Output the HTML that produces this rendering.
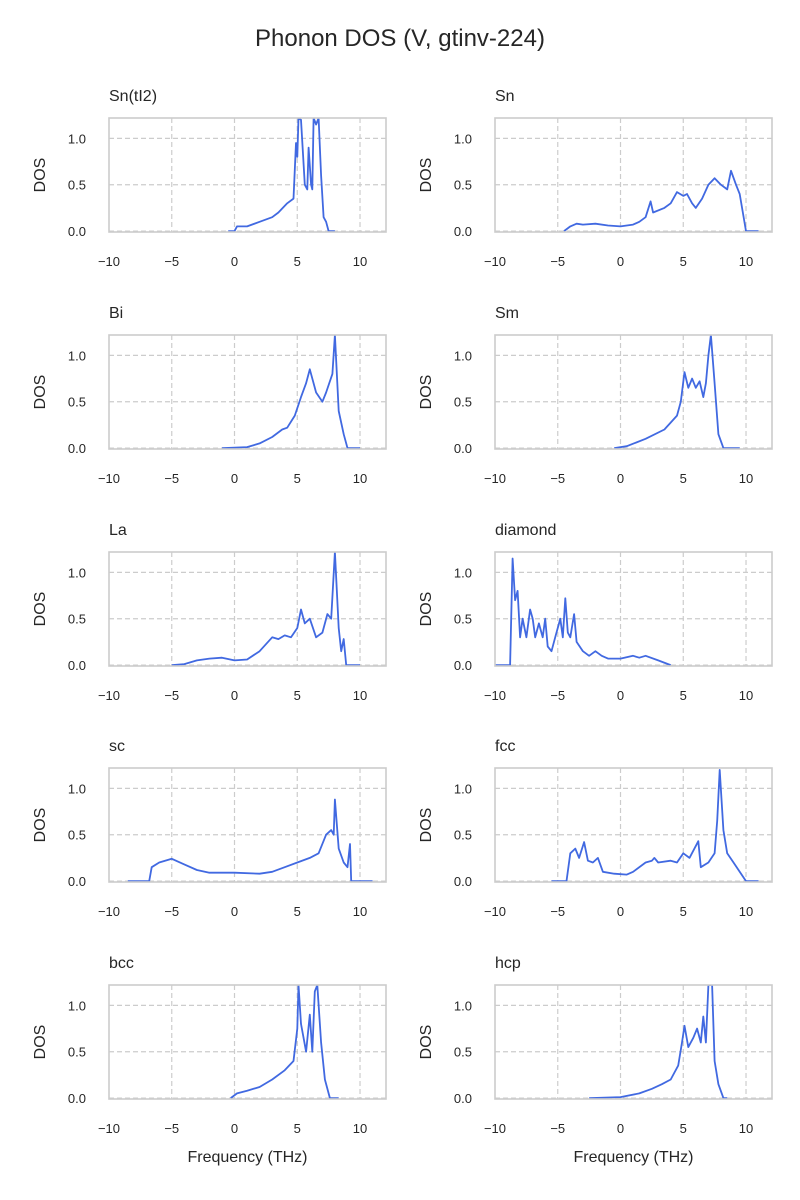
<!DOCTYPE html>
<html><head><meta charset="utf-8"><style>
html,body{margin:0;padding:0;background:#fff;}
svg{display:block;font-family:"Liberation Sans","DejaVu Sans",sans-serif;}
</style></head><body>
<svg id="fig" width="800" height="1200" viewBox="0 0 800 1200" xmlns="http://www.w3.org/2000/svg">
<rect width="800" height="1200" fill="#fff"/>
<text x="400" y="46" text-anchor="middle" font-size="24" fill="#262626">Phonon DOS (V, gtinv-224)</text>
</svg>
<script>
const panelNames = ["Sn(tI2)","Sn","Bi","Sm","La","diamond","sc","fcc","bcc","hcp"];
const xTicks = [-10,-5,0,5,10];
const yTicks = [0.0,0.5,1.0];
const yTickLabels = ["0.0","0.5","1.0"];
const freqSnTI2 = [-0.5,0,0.2,1,2,3,3.5,4.2,4.7,4.9,5,5.1,5.3,5.6,5.8,5.9,6.1,6.2,6.3,6.5,6.7,6.9,7.1,7.3,7.5,8];
const dosSnTI2  = [0,0,0.05,0.05,0.1,0.15,0.2,0.3,0.35,0.95,0.8,1.22,1.2,0.5,0.45,0.9,0.5,0.45,1.22,1.15,1.22,0.6,0.15,0.1,0,0];
const freqSn = [-4.5,-4,-3.5,-3,-2,-1,0,1,1.5,2,2.4,2.6,3.5,4,4.5,5,5.3,5.7,6,6.5,7,7.5,8,8.5,8.8,9.2,9.5,10,11];
const dosSn  = [0,0.05,0.08,0.07,0.08,0.06,0.05,0.07,0.1,0.15,0.32,0.2,0.25,0.3,0.42,0.38,0.4,0.3,0.25,0.35,0.5,0.57,0.5,0.45,0.65,0.5,0.4,0,0];
const freqBi = [-1,1,2,3,3.8,4.2,4.8,5.3,5.7,6,6.5,7,7.3,7.8,8,8.3,8.7,9,10];
const dosBi  = [0,0.01,0.05,0.12,0.2,0.22,0.35,0.55,0.7,0.85,0.6,0.5,0.6,0.8,1.22,0.4,0.15,0,0];
const freqSm = [-0.5,0.5,2,3.5,4.5,4.8,5.1,5.4,5.7,6,6.3,6.6,6.8,7,7.2,7.5,7.8,8.2,9.5];
const dosSm  = [0,0.02,0.1,0.2,0.35,0.5,0.82,0.65,0.75,0.65,0.72,0.55,0.7,1.0,1.22,0.7,0.15,0,0];
const freqLa = [-5,-4,-3,-2,-1,0,1,2,3,3.5,4,4.5,5,5.3,5.6,6,6.5,7,7.4,7.7,8,8.3,8.5,8.7,8.9,10];
const dosLa  = [0,0.01,0.05,0.07,0.08,0.05,0.06,0.15,0.3,0.28,0.32,0.3,0.4,0.6,0.45,0.5,0.3,0.35,0.55,0.5,1.22,0.4,0.15,0.28,0,0];
const freqDiamond = [-10,-8.8,-8.6,-8.4,-8.2,-8,-7.8,-7.5,-7.2,-7,-6.8,-6.5,-6.2,-6,-5.8,-5.5,-5.2,-4.8,-4.6,-4.4,-4.2,-4,-3.7,-3.5,-3,-2.5,-2,-1.5,-1,0,1,1.5,2,3,4];
const dosDiamond  = [0,0,1.15,0.7,0.8,0.3,0.5,0.3,0.6,0.5,0.3,0.45,0.3,0.5,0.2,0.15,0.3,0.5,0.3,0.72,0.35,0.3,0.55,0.25,0.15,0.1,0.15,0.1,0.07,0.07,0.1,0.08,0.1,0.05,0];
const freqSc = [-8.5,-6.8,-6.6,-6,-5,-4,-3,-2,0,2,3,4,5,6,6.7,7.3,7.7,7.9,8.0,8.3,8.7,9,9.2,9.3,11];
const dosSc  = [0,0,0.15,0.2,0.24,0.18,0.12,0.09,0.09,0.08,0.1,0.15,0.2,0.25,0.3,0.5,0.55,0.5,0.88,0.35,0.2,0.15,0.4,0,0];
const freqFcc = [-5.5,-4.3,-4,-3.6,-3.3,-2.9,-2.6,-2.2,-1.8,-1.4,-0.5,0.5,1,2,2.5,2.7,3,4,4.5,5,5.5,6.2,6.4,7,7.5,7.7,7.9,8.2,8.5,9,9.5,10,11];
const dosFcc  = [0,0,0.3,0.35,0.25,0.42,0.22,0.2,0.25,0.1,0.08,0.07,0.1,0.2,0.22,0.25,0.2,0.22,0.2,0.3,0.25,0.43,0.15,0.2,0.3,0.65,1.2,0.55,0.3,0.2,0.1,0,0];
const freqBcc = [-0.3,0.2,1,2,3,4,4.7,5,5.1,5.3,5.7,6,6.2,6.4,6.6,6.9,7.2,7.6,8.3];
const dosBcc  = [0,0.05,0.08,0.12,0.2,0.3,0.4,0.75,1.22,0.8,0.5,0.9,0.5,1.15,1.22,0.6,0.2,0,0];
const freqHcp = [-2.5,0,1.5,2.5,3.3,4,4.6,4.9,5.1,5.4,5.8,6.1,6.4,6.6,6.8,7.0,7.3,7.5,7.8,8.2,8.5];
const dosHcp  = [0,0.01,0.05,0.1,0.15,0.2,0.35,0.6,0.78,0.55,0.65,0.75,0.6,0.88,0.6,1.22,1.22,0.4,0.15,0,0];
const freqSets = [freqSnTI2,freqSn,freqBi,freqSm,freqLa,freqDiamond,freqSc,freqFcc,freqBcc,freqHcp];
const dosSets = [dosSnTI2,dosSn,dosBi,dosSm,dosLa,dosDiamond,dosSc,dosFcc,dosBcc,dosHcp];

const NS="http://www.w3.org/2000/svg";
const svg=document.getElementById('fig');
function mk(tag,attrs,parent){const e=document.createElementNS(NS,tag);for(const k in attrs)e.setAttribute(k,attrs[k]);(parent||svg).appendChild(e);return e;}
const colX=[109,495], W=277, H=114, rowTop=[118,335,552,768,985];
const XMIN=-10, XMAX=12.07, YMIN=-0.01, YMAX=1.22;
for(let i=0;i<10;i++){
  const c=i%2, r=Math.floor(i/2);
  const x0=colX[c], y0=rowTop[r];
  const sx=v=>x0+(v-XMIN)/(XMAX-XMIN)*W;
  const sy=v=>y0+H-(v-YMIN)/(YMAX-YMIN)*H;
  const g=mk('g',{});
  
  
  const clipId='clip'+i;
  const cp=mk('clipPath',{id:clipId},g);
  mk('rect',{x:x0,y:y0,width:W,height:H},cp);
  xTicks.forEach(t=>{
    if(t>XMIN){const gl=mk('line',{x1:sx(t),x2:sx(t),y1:y0,y2:y0+H,stroke:'#cccccc','stroke-width':1.2,'stroke-dasharray':'5,3'},g);
    
    }
    const tl=mk('text',{x:sx(t),y:y0+H+34,'text-anchor':'middle','font-size':13,fill:'#262626'},g);
    tl.textContent=(t<0?'\u2212'+(-t):String(t));
    
    
  });
  yTicks.forEach((t,k)=>{
    const gl=mk('line',{x1:x0,x2:x0+W,y1:sy(t),y2:sy(t),stroke:'#cccccc','stroke-width':1.2,'stroke-dasharray':'5,3'},g);
    
    
    const tl=mk('text',{x:x0-23,y:sy(t)+5,'text-anchor':'end','font-size':13,fill:'#262626'},g);
    tl.textContent=yTickLabels[k];
    
    
  });
  const fx=freqSets[i], fy=dosSets[i];
  const d=fx.map((v,k)=>(k?'L':'M')+sx(v).toFixed(1)+','+sy(fy[k]).toFixed(1)).join('');
  const p=mk('path',{d:d,fill:'none',stroke:'#4169e1','stroke-width':1.8,'stroke-linejoin':'round','clip-path':'url(#'+clipId+')'},g);
  
  
  const fr=mk('rect',{x:x0,y:y0,width:W,height:H,fill:'none',stroke:'#cccccc','stroke-width':1.6},g);
  
  
  const tt=mk('text',{x:x0,y:y0-17,'font-size':16,fill:'#262626'},g);
  tt.textContent=panelNames[i];
  
  
  const yl=mk('text',{x:0,y:0,'text-anchor':'middle','font-size':16,fill:'#262626',transform:'translate('+(x0-64)+','+(y0+H/2)+') rotate(-90)'},g);
  yl.textContent='DOS';
  
  
  if(r===4){
    const xl=mk('text',{x:x0+W/2,y:y0+H+63,'text-anchor':'middle','font-size':16,fill:'#262626'},g);
    xl.textContent='Frequency (THz)';
    
    
  }
}
</script>
</body></html>
